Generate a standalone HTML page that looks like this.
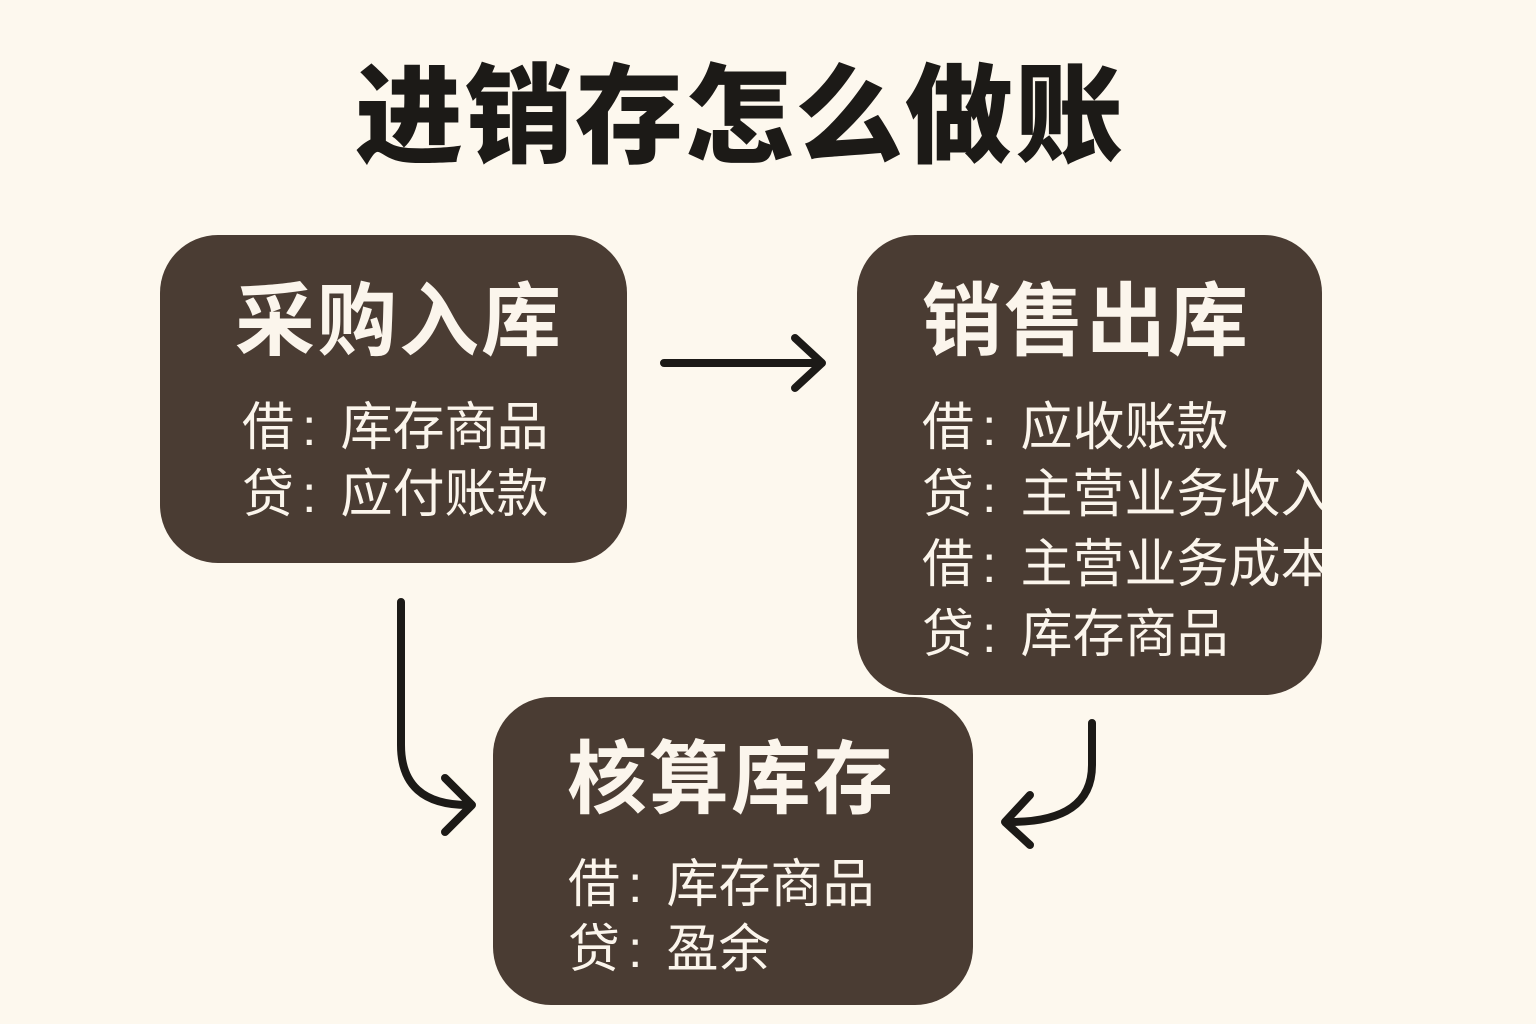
<!DOCTYPE html>
<html><head><meta charset="utf-8"><style>
body{margin:0;width:1536px;height:1024px;background:#fdf8ee;position:relative;overflow:hidden;font-family:"Liberation Sans","Noto Sans CJK SC",sans-serif;}
.t{position:absolute;left:0;width:1480px;text-align:center;top:52px;font-size:108px;font-weight:900;color:#1c1a17;letter-spacing:2px;line-height:130px}
.b{position:absolute;background:#4a3c33;border-radius:58px;overflow:hidden;color:#fbf5ec}
.h{position:absolute;font-size:80px;font-weight:700;line-height:90px;white-space:nowrap;letter-spacing:2px}
.l{position:absolute;font-size:52px;line-height:60px;white-space:nowrap}
.l i{font-style:normal;margin:0 24px 0 8px}
</style></head><body>
<div class="t">进销存怎么做账</div>
<div class="b" style="left:160px;top:235px;width:467px;height:328px">
 <div class="h" style="left:75px;top:42px">采购入库</div>
 <div class="l" style="left:82px;top:163px">借<i>:</i>库存商品</div>
 <div class="l" style="left:82px;top:230px">贷<i>:</i>应付账款</div>
</div>
<div class="b" style="left:857px;top:235px;width:465px;height:460px">
 <div class="h" style="left:65px;top:42px">销售出库</div>
 <div class="l" style="left:65px;top:163px">借<i>:</i>应收账款</div>
 <div class="l" style="left:65px;top:230px">贷<i>:</i>主营业务收入</div>
 <div class="l" style="left:65px;top:300px">借<i>:</i>主营业务成本</div>
 <div class="l" style="left:65px;top:370px">贷<i>:</i>库存商品</div>
</div>
<div class="b" style="left:493px;top:697px;width:480px;height:308px">
 <div class="h" style="left:74px;top:38px">核算库存</div>
 <div class="l" style="left:75px;top:158px">借<i>:</i>库存商品</div>
 <div class="l" style="left:75px;top:223px">贷<i>:</i>盈余</div>
</div>
<svg width="1536" height="1024" style="position:absolute;left:0;top:0" fill="none" stroke="#1c1a17" stroke-width="8" stroke-linecap="round" stroke-linejoin="round">
 <path d="M664 363H820M795 338L822 363L795 388"/>
 <path d="M401 602V745Q401 805 468 805M445 778L472 805L445 832"/>
 <path d="M1092 723V765Q1092 822 1010 822M1030 795L1005 822L1030 845"/>
</svg>
</body></html>
